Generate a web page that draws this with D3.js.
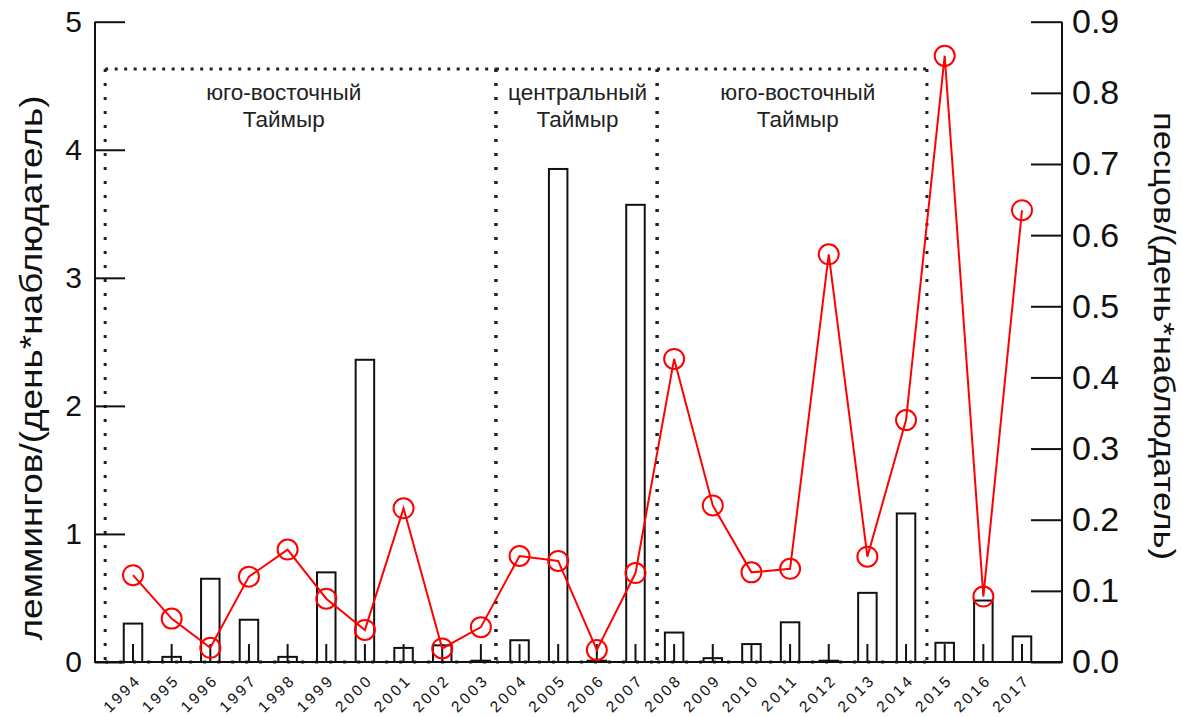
<!DOCTYPE html>
<html>
<head>
<meta charset="utf-8">
<script src="https://cdn.jsdelivr.net/npm/d3@7"></script>
<style>
  html, body { margin: 0; padding: 0; background: #fff; }
  svg { display: block; font-family: "Liberation Sans", Arial, sans-serif; }
</style>
</head>
<body>
<svg id="chart" width="1182" height="717"></svg>
<script>
// Годы наблюдений
const years = [1994, 1995, 1996, 1997, 1998, 1999, 2000, 2001, 2002, 2003, 2004, 2005,
               2006, 2007, 2008, 2009, 2010, 2011, 2012, 2013, 2014, 2015, 2016, 2017];

// Лемминги на день*наблюдатель (столбцы, левая ось)
const lemmings = [0.30, 0.04, 0.65, 0.33, 0.04, 0.70, 2.36, 0.11, 0.13, 0.01, 0.17, 3.85,
                  0.01, 3.57, 0.23, 0.03, 0.14, 0.31, 0.01, 0.54, 1.16, 0.15, 0.48, 0.20];

// Песцы на день*наблюдатель (линия, правая ось)
const foxes = [0.122, 0.061, 0.020, 0.120, 0.158, 0.089, 0.045, 0.216, 0.019, 0.049, 0.149, 0.142,
               0.017, 0.125, 0.426, 0.220, 0.126, 0.131, 0.573, 0.148, 0.340, 0.852, 0.092, 0.635];

// Деления осей
const leftTicks = [0, 1, 2, 3, 4, 5];
const rightTicks = [0, 0.1, 0.2, 0.3, 0.4, 0.5, 0.6, 0.7, 0.8, 0.9];

// Районы наблюдений: границы в годах и подписи
const regionStart = [1993.28, 2003.39, 2007.56];
const regionEnd   = [2003.39, 2007.56, 2014.54];
const regionLabels = [["юго-восточный", "Таймыр"], ["центральный", "Таймыр"], ["юго-восточный", "Таймыр"]];
const regionLabelYear = [1997.9, 2005.5, 2011.2];

const leftTitle = "леммингов/(день*наблюдатель)";
const rightTitle = "песцов/(день*наблюдатель)";

// ---- layout ----
const axisLeftX = 95, axisRightX = 1062;
const yBottom = 662, yTop = 21.7;
const barWidth = 18.5;
const whisker = 0.14;       // высота центральной черты внутри столбца (в единицах левой оси)
const regionTopValue = 4.63;

const svg = d3.select("#chart");

const x = d3.scaleLinear().domain([1994, 2017]).range([133, 1022]);
const yL = d3.scaleLinear().domain([0, 5]).range([yBottom, yTop]);
const yR = d3.scaleLinear().domain([0, 0.9]).range([yBottom, yTop]);

// Пунктирные рамки районов
const gReg = svg.append("g");
regionStart.forEach((s, i) => {
  const x0 = x(s), x1 = x(regionEnd[i]), yt = yL(regionTopValue);
  gReg.append("line").attr("x1", x0).attr("x2", x1).attr("y1", yt).attr("y2", yt)
    .attr("stroke", "#222").attr("stroke-width", 3).attr("stroke-dasharray", "3,6.5");
  gReg.append("line").attr("x1", x0).attr("x2", x1).attr("y1", yBottom).attr("y2", yBottom)
    .attr("stroke", "#222").attr("stroke-width", 3).attr("stroke-dasharray", "3,11");
  [x0, x1].forEach(xx => {
    gReg.append("line").attr("x1", xx).attr("x2", xx).attr("y1", yt).attr("y2", yBottom)
      .attr("stroke", "#222").attr("stroke-width", 3).attr("stroke-dasharray", "3,11");
  });
  const t = gReg.append("text").attr("text-anchor", "middle")
    .attr("font-size", 22.5).attr("fill", "#222");
  regionLabels[i].forEach((ln, k) => {
    t.append("tspan").attr("x", x(regionLabelYear[i])).attr("y", 100 + k * 27).text(ln);
  });
});

// Столбцы: лемминги
const gBars = svg.append("g");
gBars.selectAll("rect").data(lemmings).join("rect")
  .attr("x", (d, i) => x(years[i]) - barWidth / 2)
  .attr("y", d => yL(d))
  .attr("width", barWidth)
  .attr("height", d => yBottom - yL(d))
  .attr("fill", "none").attr("stroke", "#111").attr("stroke-width", 2);
gBars.selectAll("line").data(lemmings).join("line")
  .attr("x1", (d, i) => x(years[i])).attr("x2", (d, i) => x(years[i]))
  .attr("y1", yL(0)).attr("y2", yL(whisker))
  .attr("stroke", "#111").attr("stroke-width", 2);

// Оси
const gAxes = svg.append("g").attr("stroke", "#111").attr("stroke-width", 2);
gAxes.append("line").attr("x1", axisLeftX).attr("x2", axisLeftX).attr("y1", yTop).attr("y2", yBottom + 1);
gAxes.append("line").attr("x1", axisRightX).attr("x2", axisRightX).attr("y1", yTop).attr("y2", yBottom + 1);
gAxes.append("line").attr("x1", axisLeftX).attr("x2", axisRightX).attr("y1", yBottom).attr("y2", yBottom);

const leftAxis = d3.axisRight(yL).tickValues(leftTicks).tickSize(30).tickFormat(d3.format("d"));
const gl = svg.append("g").attr("transform", `translate(${axisLeftX},0)`).call(leftAxis);
gl.select(".domain").remove();
gl.selectAll(".tick line").attr("stroke", "#111").attr("stroke-width", 2);
gl.selectAll(".tick text").attr("x", -13).attr("text-anchor", "end")
  .attr("font-size", 30).attr("font-family", "Liberation Sans, Arial, sans-serif").attr("fill", "#111");

const rightAxis = d3.axisLeft(yR).tickValues(rightTicks).tickSize(31).tickFormat(d3.format(".1f"));
const gr = svg.append("g").attr("transform", `translate(${axisRightX},0)`).call(rightAxis);
gr.select(".domain").remove();
gr.selectAll(".tick line").attr("stroke", "#111").attr("stroke-width", 2);
gr.selectAll(".tick text").attr("x", 10).attr("text-anchor", "start")
  .attr("font-size", 34).attr("font-family", "Liberation Sans, Arial, sans-serif").attr("fill", "#111");

// Подписи годов
svg.append("g").selectAll("text").data(years).join("text")
  .attr("transform", d => `translate(${x(d) + 9},${yBottom + 19}) rotate(-45)`)
  .attr("text-anchor", "end")
  .attr("font-size", 15.5).attr("letter-spacing", 2.8).attr("fill", "#111")
  .text(d => d);

// Линия: песцы
const line = d3.line().x((d, i) => x(years[i])).y(d => yR(d));
svg.append("path").datum(foxes).attr("d", line)
  .attr("fill", "none").attr("stroke", "#ff0000").attr("stroke-width", 2);
svg.append("g").selectAll("circle").data(foxes).join("circle")
  .attr("cx", (d, i) => x(years[i])).attr("cy", d => yR(d)).attr("r", 10)
  .attr("fill", "none").attr("stroke", "#ff0000").attr("stroke-width", 2);

// Подписи осей
svg.append("text")
  .attr("transform", `translate(42,368) rotate(-90)`)
  .attr("text-anchor", "middle").attr("font-size", 31).attr("fill", "#111")
  .attr("textLength", 545).attr("lengthAdjust", "spacingAndGlyphs")
  .text(leftTitle);
svg.append("text")
  .attr("transform", `translate(1154,336) rotate(90)`)
  .attr("text-anchor", "middle").attr("font-size", 29).attr("fill", "#111")
  .attr("textLength", 448).attr("lengthAdjust", "spacingAndGlyphs")
  .text(rightTitle);
</script>
</body>
</html>
